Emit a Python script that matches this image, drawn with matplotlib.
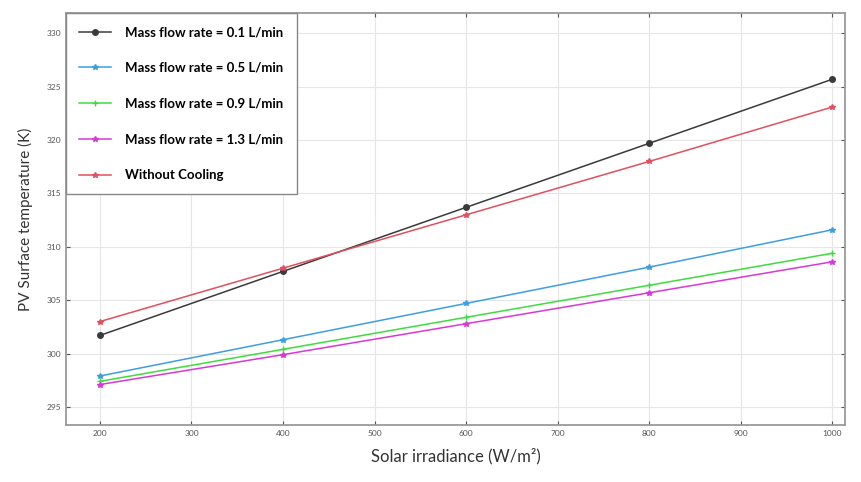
import matplotlib
matplotlib.use('Agg')
import matplotlib.pyplot as plt

plt.rcParams['font.family'] = ['Lato', 'DejaVu Sans']

irradiance = [200, 400, 600, 800, 1000]
flow_01 = [301.7, 307.7, 313.7, 319.7, 325.7]
flow_05 = [297.9, 301.3, 304.7, 308.1, 311.6]
flow_09 = [297.4, 300.4, 303.4, 306.4, 309.4]
flow_13 = [297.1, 299.9, 302.8, 305.7, 308.6]
no_cooling = [303.0, 308.0, 313.0, 318.0, 323.1]

series = [
    ('Mass flow rate = 0.1 L/min', flow_01, '#3a3a3a', 'o'),
    ('Mass flow rate = 0.5 L/min', flow_05, '#3d9ee0', '*'),
    ('Mass flow rate = 0.9 L/min', flow_09, '#3fdc3f', '+'),
    ('Mass flow rate = 1.3 L/min', flow_13, '#d838d8', '*'),
    ('Without Cooling', no_cooling, '#e0505f', '*'),
]

fig = plt.figure(figsize=(8.62, 4.82), dpi=100)
ax = fig.add_axes([0.0766, 0.118, 0.904, 0.855])

for label, vals, color, mk in series:
    ax.plot(irradiance, vals, color=color, marker=mk, markersize=4,
            linewidth=1.1, label=label)

ax.set_xlim(163, 1014)
ax.set_ylim(293.3, 331.9)
ax.set_xticks(range(200, 1001, 100))
ax.set_yticks(range(295, 331, 5))
ax.grid(True, color='#e6e6e6', linewidth=0.8)
ax.tick_params(direction='in', labelsize=6, colors='#555555', length=3,
               top=True, right=True)
for sp in ax.spines.values():
    sp.set_color('#9a9a9a')
    sp.set_linewidth(1.3)

ax.set_xlabel('Solar irradiance (W/m²)', fontsize=12, color='#333333', labelpad=8)
ax.set_ylabel('PV Surface temperature (K)', fontsize=11, color='#333333', labelpad=10)

leg = ax.legend(loc='upper left', prop={'weight': 'bold', 'size': 9.5},
                labelspacing=1.8, handlelength=2.4, handletextpad=1.1,
                borderpad=1.0, borderaxespad=0, fancybox=False,
                edgecolor='#888888', framealpha=1)
leg.get_frame().set_linewidth(1.0)

fig.savefig('out.png', dpi=100)
